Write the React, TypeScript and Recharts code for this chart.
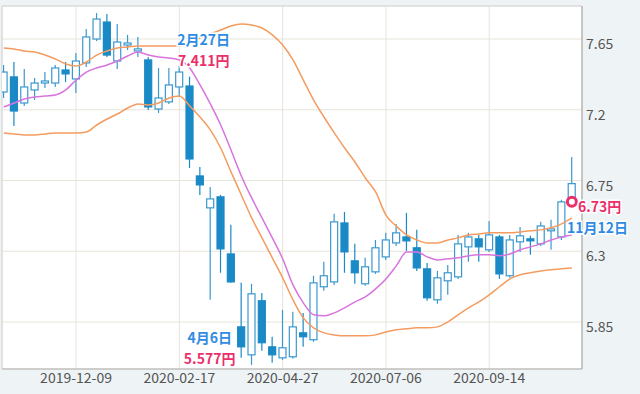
import React from 'react';
import {
  ComposedChart,
  Bar,
  Line,
  XAxis,
  YAxis,
  CartesianGrid,
  ReferenceArea,
  ReferenceDot,
} from 'recharts';

// weekly candles, 2019-10-21 .. 2020-11-09
const weeks = [
  '2019-10-21', '2019-10-28', '2019-11-04', '2019-11-11', '2019-11-18', '2019-11-25', '2019-12-02', '2019-12-09',
  '2019-12-16', '2019-12-23', '2019-12-30', '2020-01-06', '2020-01-13', '2020-01-20', '2020-01-27', '2020-02-03',
  '2020-02-10', '2020-02-17', '2020-02-24', '2020-03-02', '2020-03-09', '2020-03-16', '2020-03-23', '2020-03-30',
  '2020-04-06', '2020-04-13', '2020-04-20', '2020-04-27', '2020-05-04', '2020-05-11', '2020-05-18', '2020-05-25',
  '2020-06-01', '2020-06-08', '2020-06-15', '2020-06-22', '2020-06-29', '2020-07-06', '2020-07-13', '2020-07-20',
  '2020-07-27', '2020-08-03', '2020-08-10', '2020-08-17', '2020-08-24', '2020-08-31', '2020-09-07', '2020-09-14',
  '2020-09-21', '2020-09-28', '2020-10-05', '2020-10-12', '2020-10-19', '2020-10-26', '2020-11-02', '2020-11-09',
];

const opens = [
  7.313, 7.409, 7.243, 7.326, 7.370, 7.370, 7.453, 7.396, 7.498, 7.650,
  7.758, 7.510, 7.612, 7.574, 7.517, 7.205, 7.250, 7.345, 7.351, 6.779,
  6.576, 6.646, 6.283, 5.819, 5.641, 5.985, 5.692, 5.622, 5.629, 5.781,
  5.737, 6.074, 6.105, 6.480, 6.239, 6.093, 6.169, 6.264, 6.353, 6.391,
  6.322, 6.188, 5.991, 6.112, 6.137, 6.328, 6.379, 6.309, 6.391, 6.144,
  6.360, 6.379, 6.347, 6.430, 6.391, 6.614,
];
const closes = [
  7.440, 7.192, 7.345, 7.370, 7.383, 7.466, 7.428, 7.510, 7.663, 7.777,
  7.548, 7.631, 7.625, 7.587, 7.218, 7.275, 7.358, 7.440, 6.887, 6.722,
  6.633, 6.315, 6.105, 5.692, 6.029, 5.718, 5.641, 5.686, 5.819, 5.756,
  6.099, 6.144, 6.487, 6.296, 6.163, 6.201, 6.322, 6.372, 6.417, 6.366,
  6.194, 6.004, 6.131, 6.163, 6.347, 6.391, 6.328, 6.404, 6.156, 6.372,
  6.398, 6.366, 6.461, 6.442, 6.614, 6.730,
];
const highs = [
  7.485, 7.504, 7.459, 7.402, 7.440, 7.485, 7.504, 7.561, 7.714, 7.815,
  7.809, 7.745, 7.676, 7.663, 7.536, 7.466, 7.466, 7.478, 7.411, 6.836,
  6.709, 6.658, 6.468, 6.099, 6.093, 6.035, 5.756, 5.927, 5.915, 5.908,
  6.144, 6.233, 6.538, 6.550, 6.347, 6.258, 6.372, 6.417, 6.474, 6.544,
  6.436, 6.226, 6.175, 6.213, 6.404, 6.417, 6.404, 6.493, 6.404, 6.404,
  6.455, 6.398, 6.487, 6.500, 6.627, 6.900,
];
const lows = [
  7.275, 7.097, 7.224, 7.262, 7.339, 7.345, 7.377, 7.307, 7.472, 7.637,
  7.536, 7.459, 7.580, 7.536, 7.199, 7.180, 7.237, 7.281, 6.830, 6.658,
  5.991, 6.163, 6.099, 5.622, 5.577, 5.667, 5.590, 5.609, 5.616, 5.692,
  5.724, 6.048, 6.086, 6.163, 6.093, 6.080, 6.156, 6.245, 6.334, 6.302,
  6.175, 5.985, 5.966, 6.023, 6.124, 6.233, 6.233, 6.296, 6.124, 6.131,
  6.296, 6.277, 6.334, 6.309, 6.372, 6.595,
];

// bollinger upper / lower and short moving average
const upper = [
  7.593, 7.587, 7.574, 7.567, 7.548, 7.523, 7.491, 7.478, 7.504, 7.548,
  7.574, 7.593, 7.599, 7.606, 7.606, 7.606, 7.606, 7.606, 7.631, 7.656,
  7.682, 7.707, 7.733, 7.745, 7.739, 7.720, 7.676, 7.612, 7.517, 7.389,
  7.262, 7.154, 7.053, 6.957, 6.868, 6.766, 6.677, 6.530, 6.460, 6.404,
  6.372, 6.353, 6.353, 6.372, 6.385, 6.404, 6.410, 6.417, 6.417, 6.417,
  6.423, 6.430, 6.436, 6.449, 6.474, 6.512,
];
const lower = [
  7.052, 7.046, 7.040, 7.040, 7.046, 7.052, 7.052, 7.052, 7.059, 7.103,
  7.141, 7.173, 7.211, 7.237, 7.231, 7.243, 7.275, 7.288, 7.224, 7.154,
  7.072, 6.957, 6.805, 6.658, 6.512, 6.385, 6.258, 6.131, 5.991, 5.876,
  5.813, 5.781, 5.768, 5.762, 5.762, 5.762, 5.768, 5.787, 5.800, 5.807,
  5.813, 5.813, 5.819, 5.851, 5.896, 5.940, 5.978, 6.023, 6.074, 6.124,
  6.150, 6.163, 6.175, 6.182, 6.188, 6.194,
];
const ma = [
  7.218, 7.243, 7.269, 7.281, 7.288, 7.294, 7.326, 7.389, 7.440, 7.466,
  7.485, 7.510, 7.542, 7.567, 7.548, 7.536, 7.529, 7.517, 7.466, 7.358,
  7.237, 7.103, 6.944, 6.779, 6.639, 6.512, 6.385, 6.252, 6.086, 5.972,
  5.896, 5.889, 5.908, 5.940, 5.978, 6.010, 6.061, 6.124, 6.207, 6.296,
  6.296, 6.264, 6.245, 6.252, 6.258, 6.271, 6.277, 6.277, 6.271, 6.283,
  6.309, 6.328, 6.347, 6.372, 6.391, 6.404,
];

const xTickLabels = ['2019-12-09', '2020-02-17', '2020-04-27', '2020-07-06', '2020-09-14'];
const yTicks = [5.85, 6.3, 6.75, 7.2, 7.65];

const highNote = { i: 18, value: 7.411, date: '2月27日', price: '7.411円' };
const lowNote = { i: 24, value: 5.577, date: '4月6日', price: '5.577円' };
const lastNote = { i: 55, value: 6.73, date: '11月12日', price: '6.73円' };

const data = weeks.map((date, i) => ({
  i,
  date,
  open: opens[i],
  close: closes[i],
  high: highs[i],
  low: lows[i],
  upper: upper[i],
  lower: lower[i],
  ma: ma[i],
}));

const X_DOMAIN = [-0.17, 55.98];
const Y_DOMAIN = [5.551, 7.86];
const FILL_BLUE = '#1a8ac6';
const HOLLOW_BLUE = '#3a98cf';
const DATE_BLUE = '#2f8be3';
const PRICE_PINK = '#ea2f6b';
const FONT = '"Noto Sans CJK JP", "Noto Sans", sans-serif';

function Candle(props: any) {
  const { x, y, width, height, payload } = props;
  if (!payload) return null;
  const { open, close, high, low } = payload;
  const top = Math.min(y, y + height);
  const bottom = Math.max(y, y + height);
  const span = high - low || 1;
  const px = (v: number) => top + ((high - v) / span) * (bottom - top);
  const cx = x + width / 2;
  const up = close >= open;
  const bTop = px(Math.max(open, close));
  const bBot = px(Math.min(open, close));
  const color = up ? HOLLOW_BLUE : FILL_BLUE;
  return (
    <g>
      <line x1={cx} x2={cx} y1={top} y2={bottom} stroke={color} strokeWidth={1.2} />
      <rect
        x={x + 0.5}
        y={bTop}
        width={width - 1}
        height={Math.max(bBot - bTop, 1.5)}
        fill={up ? '#fff' : FILL_BLUE}
        stroke={color}
        strokeWidth={1.2}
      />
    </g>
  );
}

const XTick = ({ x, y, payload }: any) => (
  <text x={x} y={y + 14} textAnchor="middle" fill="#555" fontSize={14} fontFamily={FONT}>
    {weeks[payload.value]}
  </text>
);

const YTick = ({ x, y, payload }: any) => (
  <text x={x + 4} y={y + 10} textAnchor="start" fill="#555" fontSize={14} fontFamily={FONT}>
    {payload.value}
  </text>
);

const halo = { stroke: '#fff', strokeWidth: 3, paintOrder: 'stroke' as const };

function NoteText({ x, y, color, anchor, children }: any) {
  return (
    <text x={x} y={y} fill={color} fontSize={14} fontWeight="bold" fontFamily={FONT} textAnchor={anchor} {...halo}>
      {children}
    </text>
  );
}

export default function App() {
  return (
    <div style={{ width: 640, height: 394, background: '#eef3f5' }}>
      <style>{'body{margin:0}'}</style>
      <ComposedChart width={640} height={394} data={data} margin={{ top: 6, right: 0, bottom: 0, left: 2 }}>
        <CartesianGrid stroke="#e7e4da" fill="#fff" />
        <ReferenceArea
          x1={X_DOMAIN[0]}
          x2={X_DOMAIN[1]}
          y1={Y_DOMAIN[0]}
          y2={Y_DOMAIN[1]}
          fill="none"
          stroke="#d6d6d6"
        />
        <XAxis
          dataKey="i"
          type="number"
          domain={X_DOMAIN}
          allowDataOverflow
          ticks={xTickLabels.map((d) => weeks.indexOf(d))}
          interval={0}
          height={25}
          tickSize={0}
          tickMargin={0}
          tick={<XTick />}
          axisLine={{ stroke: '#b8b8b8' }}
        />
        <YAxis
          orientation="right"
          type="number"
          domain={Y_DOMAIN}
          allowDataOverflow
          ticks={yTicks}
          interval={0}
          width={58}
          tickSize={0}
          tickMargin={0}
          tick={<YTick />}
          axisLine={{ stroke: '#a8a8a8' }}
        />
        <Line dataKey="upper" type="monotone" stroke="#f49c60" strokeWidth={1.5} dot={false} isAnimationActive={false} />
        <Line dataKey="lower" type="monotone" stroke="#f49c60" strokeWidth={1.5} dot={false} isAnimationActive={false} />
        <Line dataKey="ma" type="monotone" stroke="#d774de" strokeWidth={1.5} dot={false} isAnimationActive={false} />
        <Bar
          dataKey={(d: any) => [d.low, d.high]}
          barSize={8}
          shape={<Candle />}
          isAnimationActive={false}
        />
        <ReferenceDot
          x={highNote.i}
          y={highNote.value}
          r={0}
          shape={(p: any) => (
            <g>
              <NoteText x={p.cx + 14} y={p.cy - 32} color={DATE_BLUE} anchor="middle">{highNote.date}</NoteText>
              <NoteText x={p.cx + 14} y={p.cy - 11} color={PRICE_PINK} anchor="middle">{highNote.price}</NoteText>
            </g>
          )}
        />
        <ReferenceDot
          x={lowNote.i}
          y={lowNote.value}
          r={0}
          shape={(p: any) => (
            <g>
              <NoteText x={p.cx - 42} y={p.cy - 22} color={DATE_BLUE} anchor="middle">{lowNote.date}</NoteText>
              <NoteText x={p.cx - 42} y={p.cy - 1} color={PRICE_PINK} anchor="middle">{lowNote.price}</NoteText>
            </g>
          )}
        />
        <ReferenceDot
          x={lastNote.i}
          y={lastNote.value}
          r={0}
          shape={(p: any) => (
            <g>
              <circle cx={p.cx} cy={p.cy + 18} r={4.5} fill="#fff" stroke={PRICE_PINK} strokeWidth={3} />
              <NoteText x={p.cx + 6} y={p.cy + 28} color={PRICE_PINK} anchor="start">{lastNote.price}</NoteText>
              <NoteText x={p.cx - 5} y={p.cy + 49} color={DATE_BLUE} anchor="start">{lastNote.date}</NoteText>
            </g>
          )}
        />
      </ComposedChart>
    </div>
  );
}
